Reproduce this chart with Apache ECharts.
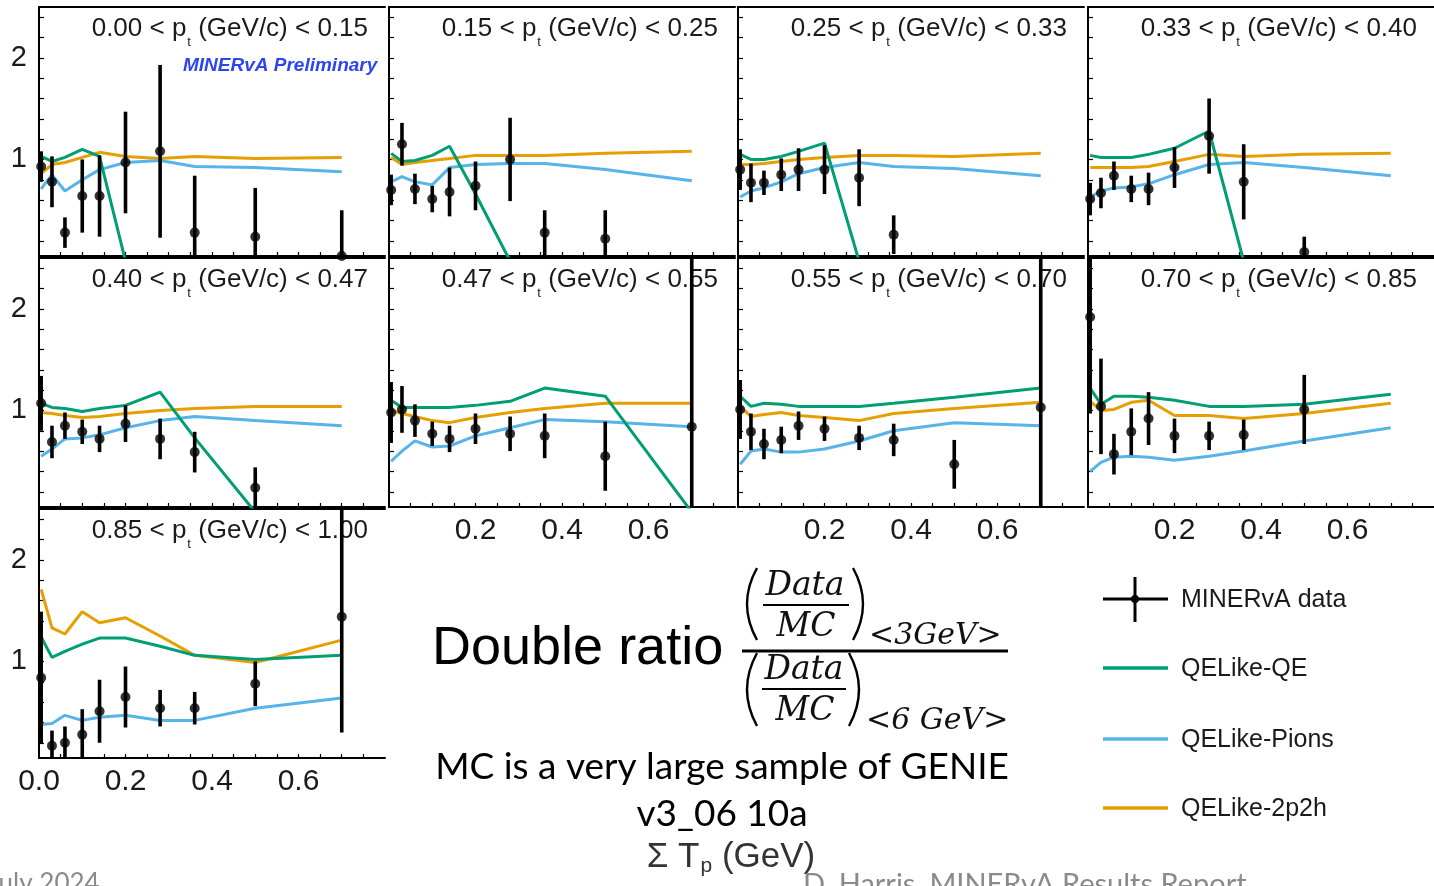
<!DOCTYPE html>
<html>
<head>
<meta charset="utf-8">
<script src="https://cdn.jsdelivr.net/npm/echarts@6/dist/echarts.min.js"></script>
<style>
  html, body { margin: 0; padding: 0; background: #fff; }
  #chart { width: 1434px; height: 886px; }
</style>
</head>
<body>
<div id="chart"></div>
<script>
// Sum of proton kinetic energy, bin centres (GeV)
const sumTp = [0.005, 0.03, 0.06, 0.10, 0.14, 0.20, 0.28, 0.36, 0.50, 0.70];

// Transverse-momentum slices, one panel each
const ptLow  = ['0.00', '0.15', '0.25', '0.33', '0.40', '0.47', '0.55', '0.70', '0.85'];
const ptHigh = ['0.15', '0.25', '0.33', '0.40', '0.47', '0.55', '0.70', '0.85', '1.00'];

// Data double ratio and its uncertainty (null = no point drawn)
const dataRatio = [
  [0.93, 0.78, 0.28, 0.64, 0.64, 0.97, 1.08, 0.28, 0.24, 0.05],
  [0.70, 1.15, 0.71, 0.61, 0.68, 0.74, 1.00, 0.28, 0.22, null],
  [0.90, 0.77, 0.77, 0.85, 0.90, 0.90, 0.82, 0.26, null, null],
  [0.61, 0.67, 0.84, 0.71, 0.71, 0.92, 1.23, 0.78, 0.09, null],
  [1.07, 0.69, 0.85, 0.79, 0.72, 0.87, 0.72, 0.59, 0.24, null],
  [0.98, 1.01, 0.90, 0.77, 0.72, 0.82, 0.77, 0.75, 0.55, 0.84],
  [1.01, 0.79, 0.67, 0.71, 0.85, 0.82, 0.73, 0.71, 0.47, 1.03],
  [1.92, 1.04, 0.57, 0.79, 0.92, 0.75, 0.75, 0.76, 1.01, null],
  [0.84, 0.17, 0.20, 0.28, 0.51, 0.65, 0.54, 0.54, 0.78, 1.44]
];
const dataError = [
  [0.15, 0.25, 0.15, 0.36, 0.40, 0.50, 0.85, 0.56, 0.48, 0.45],
  [0.15, 0.21, 0.15, 0.13, 0.24, 0.24, 0.41, 0.22, 0.28, null],
  [0.20, 0.19, 0.12, 0.16, 0.21, 0.24, 0.28, 0.19, null, null],
  [0.16, 0.15, 0.14, 0.13, 0.16, 0.20, 0.37, 0.37, 0.15, null],
  [0.27, 0.16, 0.13, 0.12, 0.13, 0.18, 0.20, 0.20, 0.20, null],
  [0.30, 0.23, 0.16, 0.12, 0.13, 0.15, 0.17, 0.22, 0.34, 1.75],
  [0.29, 0.18, 0.15, 0.13, 0.14, 0.12, 0.12, 0.16, 0.24, 1.65],
  [0.95, 0.47, 0.20, 0.23, 0.26, 0.17, 0.14, 0.15, 0.34, null],
  [0.65, 0.15, 0.16, 0.25, 0.31, 0.30, 0.18, 0.16, 0.22, 1.14]
];

// Simulated double ratios per interaction channel
const qeRatio = [
  [1.03, 0.98, 1.02, 1.10, 1.03, 0.00, 0.00, 0.00, 0.00, 0.00],
  [1.06, 0.98, 0.99, 1.04, 1.13, 0.66, 0.00, 0.00, 0.00, 0.00],
  [1.05, 1.00, 1.00, 1.03, 1.08, 1.16, 0.00, 0.00, 0.00, 0.00],
  [1.04, 1.02, 1.02, 1.02, 1.05, 1.11, 1.28, 0.00, 0.00, 0.00],
  [1.07, 1.03, 1.02, 0.99, 1.02, 1.05, 1.18, 0.73, 0.00, 0.00],
  [1.10, 1.03, 1.03, 1.03, 1.03, 1.05, 1.09, 1.22, 1.14, 0.00],
  [1.14, 1.04, 1.07, 1.06, 1.04, 1.04, 1.04, 1.07, 1.13, 1.22],
  [1.22, 1.06, 1.14, 1.14, 1.13, 1.10, 1.04, 1.04, 1.06, 1.16],
  [1.24, 1.04, 1.10, 1.17, 1.23, 1.23, 1.15, 1.06, 1.02, 1.06]
];
const pionsRatio = [
  [0.71, 0.85, 0.69, 0.80, 0.90, 0.97, 0.99, 0.93, 0.92, 0.88],
  [0.78, 0.83, 0.78, 0.75, 0.92, 0.95, 0.96, 0.96, 0.90, 0.79],
  [0.63, 0.69, 0.72, 0.78, 0.86, 0.92, 0.97, 0.93, 0.91, 0.84],
  [0.63, 0.69, 0.72, 0.73, 0.76, 0.85, 0.95, 0.97, 0.92, 0.84],
  [0.55, 0.62, 0.72, 0.73, 0.76, 0.83, 0.90, 0.94, 0.90, 0.85],
  [0.50, 0.60, 0.70, 0.64, 0.65, 0.75, 0.83, 0.91, 0.89, 0.84],
  [0.47, 0.60, 0.62, 0.59, 0.59, 0.62, 0.70, 0.80, 0.88, 0.85],
  [0.40, 0.49, 0.54, 0.55, 0.54, 0.51, 0.55, 0.60, 0.70, 0.83],
  [0.38, 0.39, 0.47, 0.42, 0.45, 0.47, 0.42, 0.42, 0.54, 0.64]
];
const twoP2hRatio = [
  [0.86, 0.95, 0.97, 1.02, 1.07, 1.03, 1.01, 1.03, 1.01, 1.02],
  [1.02, 0.95, 0.97, 0.99, 1.01, 1.04, 1.04, 1.04, 1.06, 1.08],
  [0.95, 0.95, 0.96, 0.98, 1.00, 1.02, 1.04, 1.04, 1.03, 1.06],
  [0.92, 0.92, 0.92, 0.92, 0.93, 0.98, 1.05, 1.03, 1.05, 1.06],
  [0.98, 0.97, 0.95, 0.93, 0.94, 0.97, 1.00, 1.02, 1.04, 1.04],
  [1.00, 0.97, 0.94, 0.90, 0.88, 0.93, 0.98, 1.02, 1.07, 1.07],
  [1.04, 0.94, 0.96, 0.98, 0.95, 0.93, 0.90, 0.97, 1.02, 1.08],
  [1.09, 1.00, 1.01, 1.08, 1.10, 0.95, 0.95, 0.92, 0.97, 1.07],
  [1.71, 1.33, 1.27, 1.49, 1.38, 1.43, 1.25, 1.06, 0.99, 1.21]
];

// Axis ticks and labels
const xTicks = [0.05, 0.10, 0.15, 0.20, 0.25, 0.30, 0.35, 0.40, 0.45, 0.50, 0.55, 0.60, 0.65, 0.70, 0.75];
const xLabelsFull = [0, 0.2, 0.4, 0.6];
const xLabelsInner = [0.2, 0.4, 0.6];
const yTicks = [0.2, 0.4, 0.6, 0.8, 1.0, 1.2, 1.4, 1.6, 1.8, 2.0, 2.2, 2.4];
const yLabels = [1, 2];

const names = { data: 'MINERvA data', qe: 'QELike-QE', pions: 'QELike-Pions', twoP2h: 'QELike-2p2h' };
const colors = { qe: '#009E73', pions: '#56B4E9', twoP2h: '#E69F00' };

// Panel layout
const W = 1434;
const colLeft = [39, 389, 738, 1088];
const rowTop = [7, 258, 509];
const panelW = 346, panelH = 249;
const X_MIN = 0, X_MAX = 0.8, Y_MIN = 0.05, Y_MAX = 2.5;
const FONT = 'Liberation Sans';

const grid = [], xAxis = [], yAxis = [], series = [], title = [];
const frameLine = { show: true, lineStyle: { color: '#000', width: 2 } };

for (let i = 0; i < ptLow.length; i++) {
  const col = i % 4, row = Math.floor(i / 4);
  const left = colLeft[col], top = rowTop[row];
  grid.push({ left: left, top: top, width: panelW, height: panelH });

  let xl = null;
  if (i === 8) xl = xLabelsFull;
  else if (row === 1 && col > 0) xl = xLabelsInner;

  xAxis.push({
    type: 'value', gridIndex: i, position: 'bottom', min: X_MIN, max: X_MAX,
    axisLine: frameLine,
    axisTick: { show: true, inside: true, length: 4, customValues: xTicks, lineStyle: { color: '#000', width: 1.2 } },
    axisLabel: xl ? {
      show: true, customValues: xl, margin: 9, showMinLabel: true,
      formatter: v => v.toFixed(1), fontFamily: FONT, fontSize: 30, color: '#1a1a1a'
    } : { show: false },
    splitLine: { show: false }
  });
  xAxis.push({
    type: 'value', gridIndex: i, position: 'top', min: X_MIN, max: X_MAX,
    axisLine: frameLine, axisTick: { show: false }, axisLabel: { show: false }, splitLine: { show: false }
  });
  yAxis.push({
    type: 'value', gridIndex: i, position: 'left', min: Y_MIN, max: Y_MAX,
    axisLine: frameLine,
    axisTick: { show: true, inside: true, length: 5, customValues: yTicks, lineStyle: { color: '#000', width: 1.2 } },
    axisLabel: col === 0 ? {
      show: true, customValues: yLabels, margin: 12,
      formatter: v => String(v), fontFamily: FONT, fontSize: 29, color: '#1a1a1a'
    } : { show: false },
    splitLine: { show: false }
  });
  yAxis.push({
    type: 'value', gridIndex: i, position: 'right', min: Y_MIN, max: Y_MAX,
    axisLine: frameLine, axisTick: { show: false }, axisLabel: { show: false }, splitLine: { show: false }
  });

  const xi = 2 * i, yi = 2 * i;
  const mc = (arr) => sumTp.map((x, k) => [x, arr[i][k]]);
  [['twoP2h', twoP2hRatio], ['pions', pionsRatio], ['qe', qeRatio]].forEach(([key, arr]) => {
    series.push({
      type: 'line', name: names[key], xAxisIndex: xi, yAxisIndex: yi,
      data: mc(arr), showSymbol: false, symbol: 'none', clip: true,
      lineStyle: { color: colors[key], width: 3 }, itemStyle: { color: colors[key] },
      z: 3, animation: false, silent: true
    });
  });

  const pts = [];
  sumTp.forEach((x, k) => {
    if (dataRatio[i][k] != null) pts.push([x, dataRatio[i][k], dataError[i][k]]);
  });
  series.push({
    type: 'custom', name: names.data, xAxisIndex: xi, yAxisIndex: yi, clip: true,
    data: pts, encode: { x: 0, y: 1 },
    renderItem: (params, api) => {
      const x = api.value(0), y = api.value(1), e = api.value(2);
      const p1 = api.coord([x, y - e]), p2 = api.coord([x, y + e]);
      return {
        type: 'line',
        shape: { x1: p1[0], y1: p1[1], x2: p2[0], y2: p2[1] },
        style: { stroke: '#000', lineWidth: 3.6 }
      };
    },
    z: 4, animation: false, silent: true
  });
  series.push({
    type: 'scatter', name: names.data, xAxisIndex: xi, yAxisIndex: yi,
    data: pts.map(p => [p[0], p[1]]), symbol: 'circle', symbolSize: 10,
    itemStyle: { color: '#000' }, z: 5, animation: false, silent: true
  });

  title.push({
    text: ptLow[i] + ' < p{t|t} (GeV/c) < ' + ptHigh[i],
    right: W - (left + panelW - 17), top: top + 1, padding: 0, z: 1,
    textStyle: {
      fontFamily: FONT, fontSize: 26, fontWeight: 'normal', color: '#1a1a1a',
      rich: { t: { fontFamily: FONT, fontSize: 13, color: '#1a1a1a', padding: [28, 0, 0, 1] } }
    }
  });
}

function txt(x, y, text, font, extra) {
  return {
    type: 'text', x: x, y: y, silent: true,
    style: Object.assign({ text: text, font: font, fill: '#111', align: 'left', verticalAlign: 'middle',
      textAlign: 'left', textVerticalAlign: 'middle' }, extra || {})
  };
}
function seg(x1, y1, x2, y2, color, w) {
  return { type: 'line', silent: true, shape: { x1, y1, x2, y2 }, style: { stroke: color, lineWidth: w } };
}
function paren(x, yTop, yBot, bulge) {
  return { type: 'bezierCurve', silent: true,
    shape: { x1: x, y1: yTop, x2: x, y2: yBot, cpx1: x + bulge, cpy1: (yTop + yBot) / 2 },
    style: { stroke: '#000', lineWidth: 2.4, fill: null } };
}

const MATH = 'italic 33px "DejaVu Serif"';
const MATH_SUB = 'italic 30px "DejaVu Serif"';
const center = { align: 'center', textAlign: 'center' };

const graphicEls = [
  txt(183, 66, 'MINERvA Preliminary', 'italic bold 19px "Liberation Sans"', { fill: '#2d45f0' }),

  // Double ratio formula
  txt(432, 649, 'Double ratio', '54px "Liberation Sans"', { fill: '#000' }),
  paren(757, 568, 640, -20), paren(853, 568, 640, 20),
  txt(805, 586, 'Data', MATH, center),
  seg(763, 605, 849, 605, '#000', 2),
  txt(806, 627, 'MC', MATH, center),
  txt(869, 636, '<3GeV>', MATH_SUB),
  seg(742, 651, 1008, 651, '#000', 3),
  paren(757, 653, 726, -20), paren(849, 653, 726, 20),
  txt(804, 670, 'Data', MATH, center),
  seg(762, 689, 846, 689, '#000', 2),
  txt(805, 711, 'MC', MATH, center),
  txt(866, 721, '<6 GeV>', MATH_SUB),

  txt(722, 767, 'MC is a very large sample of GENIE', '37px Lato', Object.assign({ fill: '#000' }, center)),
  txt(722, 814, 'v3_06 10a', '37px Lato', Object.assign({ fill: '#000' }, center)),
  txt(731, 857, 'Σ T{p|p} (GeV)', '35px "Liberation Sans"', Object.assign({
    fill: '#333',
    rich: { p: { fontFamily: FONT, fontSize: 21, fill: '#333', color: '#333', padding: [19, 0, 0, 1] } }
  }, center)),

  txt(-12, 884, 'July 2024', '26px Lato', { fill: '#8a8a8a' }),
  txt(803, 885, 'D. Harris, MINERvA Results Report', '29px Lato', { fill: '#8a8a8a' }),

  // Legend
  seg(1103, 599, 1168, 599, '#000', 3),
  seg(1135, 577, 1135, 622, '#000', 3),
  { type: 'circle', silent: true, shape: { cx: 1135, cy: 599, r: 4 }, style: { fill: '#000' } },
  txt(1181, 600, names.data, '25px "Liberation Sans"', { fill: '#1a1a1a' }),
  seg(1103, 668, 1168, 668, colors.qe, 3.5),
  txt(1181, 669, names.qe, '25px "Liberation Sans"', { fill: '#1a1a1a' }),
  seg(1103, 739, 1168, 739, colors.pions, 3.5),
  txt(1181, 740, names.pions, '25px "Liberation Sans"', { fill: '#1a1a1a' }),
  seg(1103, 808, 1168, 808, colors.twoP2h, 3.5),
  txt(1181, 809, names.twoP2h, '25px "Liberation Sans"', { fill: '#1a1a1a' })
];

const chart = echarts.init(document.getElementById('chart'), null, { renderer: 'canvas' });
chart.setOption({
  backgroundColor: '#fff',
  animation: false,
  title: title,
  grid: grid,
  xAxis: xAxis,
  yAxis: yAxis,
  series: series,
  graphic: { elements: graphicEls }
});
</script>
</body>
</html>
